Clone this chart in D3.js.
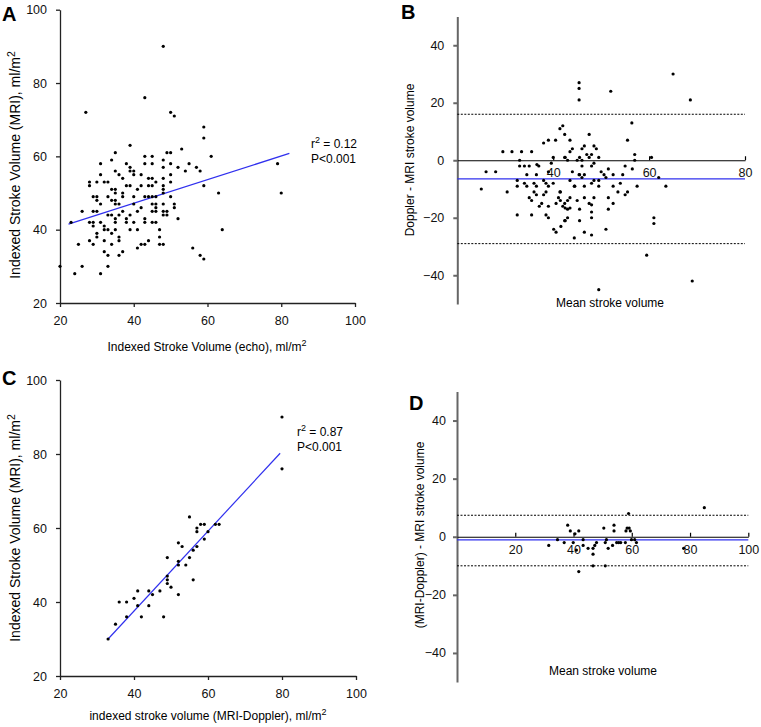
<!DOCTYPE html>
<html><head><meta charset="utf-8">
<script src="https://cdn.jsdelivr.net/npm/d3@7"></script>
<style>body{margin:0;background:#fff}svg{display:block}text{font-family:"Liberation Sans",Arial,sans-serif}</style>
</head><body><svg id="c" width="761" height="727"></svg>
<script>
// ---- Data ----
const panelAPoints = [[27,72],[48,90],[43,76],[50,72],[51,71],[39,63],[53,62],[35,61],[49,61],[50,61],[43,60],[45,60],[31,58],[34,59],[38,58],[43,58],[45,58],[48,59],[50,58],[55,58],[52,57],[57,57],[48,57],[39,57],[40,56],[35,56],[39,56],[40,55],[42,55],[37,54],[45,54],[48,54],[50,55],[54,56],[58,56],[59,68],[59,65],[61,60],[79,58],[59,52],[63,50],[80,50],[64,40],[56,35],[58,33],[59,32],
[20,30],[24,28],[26,30],[25,36],[23,42],[26,45],[31,28],[33,30],[32,34],[33,33],[36,33],[37,34],[28,37],[29,36],[30,38],[30,39],[32,37],[34,36],[36,38],[36,37],[32,41],[32,40],[33,40],[35,40],[34,39],[39,40],[41,35],[42,36],[43,36],[44,37],[41,40],[40,42],[43,42],[43,43],[45,42],[46,42],[47,40],[47,38],[47,36],[48,36],[52,43],[28,42],[29,42],[29,41],[31,42],[29,45],[30,45],[31,47],[29,49],[30,49],[30,48],[28,53],[28,52],[30,53],[32,53],[33,53],[33,49],[33,44],[34,44],[35,48],[35,47],[36,47],[34,48],[35,43],[35,42],[36,44],[37,50],[37,49],[38,52],[39,52],[38,43],[38,42],[40,49],[40,47],[42,46],[43,49],[44,49],[44,52],[45,52],[46,53],[48,52],[50,53],[48,51],[48,50],[45,49],[46,49],[45,47],[46,47],[45,45],[46,46],[46,45],[48,47],[48,45],[49,45],[48,44],[49,44],[50,49],[51,47],[51,46],[34,51],[35,50],[35,51],[36,55],[31,55],[41,51],[42,52],[44,54],[39,44],[41,45],[37,45]];
const panelARegX = [22.3, 82.2];
const panelARegY = [41.5, 60.8];
const panelAStats = ["0.12", "P<0.001"];

const panelBPoints = [[45.4,27],[45.4,25],[45.4,21],[52,24],[65,30],[68.6,21],[56.4,13],[55.5,7],[57,2],[57,0],[60.5,1],[62,-6],[47.5,9],[41.4,11],[42,12],[42.4,9],[43.5,7],[43.5,3],[44,4],[42.4,1],[45,0],[45.5,1],[46,0],[46,4],[46.5,5],[47,2],[47.5,1],[48,2],[48.5,5],[49,4],[49.5,1],[48,-2],[48.5,-1],[46,-2],[44,-4],[50,-4],[50.6,-5],[51.5,-3],[52.5,-5],[54.5,-5],[55,-2],[56.5,-3],[45.5,-5],[46,-6],[46.5,-5],[51,-6],
[43.5,-7],[44.4,-9],[46.5,-9],[48,-8],[48.5,-7],[49.5,-7],[49.5,-9],[52.5,-9],[54,-8],[53.5,-11],[55,-12],[55.5,-11],[57.5,-9],[63.5,-9],[41.4,-11],[42.4,-15],[43,-17],[42.4,-21],[45,-14],[45.5,-17],[45.5,-21],[46.5,-13],[47.5,-15],[48,-15.5],[48,-18],[48,-20],[48.5,-13],[51.5,-13],[52.5,-15],[51.5,-17],[46.5,-25],[48,-26],[51,-24],[44.4,-27],[61,-20],[61,-22],[59.5,-33],[69,-42],[49.5,-45],
[26,-4],[28,-4],[25,-10],[30.4,-11],[32.5,-7],[32.5,-9],[32.5,-19],[35.5,-19],[34,-8],[34.5,-9],[36.6,-1.5],[36,-8],[36.5,-9],[36,-11],[36.5,-12],[35,-13],[35.5,-14],[38,-7],[38.5,-8],[39,-9],[40,-8],[38.5,-11],[38,-12],[37.6,-15],[37.1,-16],[39,-16],[38.5,-19],[39,-20],[40.1,-24],[40.6,-25],[41.6,-23],[41.5,-11],[41.1,-13],[41.5,-14],[40.6,-15],[42,-16],[42.5,-16.6],[43.5,-16.6],[43,-14],[43.5,-13],[42.5,-21],[43,-20],[44.5,-9],[45.4,-5],[33,-2],[34,-2],[35,-2],[36.5,-5],
[29.5,3],[31.4,3],[33,0],[33.4,3],[35.5,3],[34.5,-5],[37,-2],[38,6],[39,7],[40.5,7],[40,1],[39.6,-1],[39,-4],[42.5,1],[43,0]];
const panelBMean = -6.5, panelBUpper = 16, panelBLower = -29;

const panelCPoints = [[33,30],[35,34],[36,40],[38,40],[38,36],[40,41],[41,43],[41,39],[42,36],[44,43],[45,42],[44,39],[47,43],[48,36],[49,47],[49,46],[49,45],[50,44],[49,52],[52,51],[52,50],[52,42],[52,56],[53,55],[54,50],[55,52],[56,54],[57,55],[56,46],[55,63],[57,60],[57,59],[58,61],[59,61],[60,59],[59,57],[62,61],[63,61],[80,90],[80,76]];
const panelCRegX = [33, 79.5];
const panelCRegY = [30, 80.2];
const panelCStats = ["0.87", "P<0.001"];

const panelDPoints = [[31.5,-3],[34.5,-1],[36.8,-2],[38,4],[38.9,2],[39.9,-2],[40.5,1],[41,-4.6],[41.8,2],[41.8,-12],[43.3,-1],[43.3,-3],[45,-4],[46.7,-4],[46.7,-6],[46.7,-10],[47.3,-3],[47.9,-2],[50.4,3],[50.9,-2],[51.3,-1],[50.9,-10],[51.9,-4],[53.4,-3],[53.9,4],[53.9,2],[54.8,-2],[55.5,-2],[56.2,-2],[57.8,-2],[58,2],[58.4,3],[58.9,8],[59.1,3],[59.5,2],[59.9,-1],[61,-1],[61.6,-2],[77.8,-4],[84.9,10]];
const panelDMean = -1.1, panelDUpper = 7.4, panelDLower = -10;

const scatterTicks = [20, 40, 60, 80, 100];
const baYTicks = [-40, -20, 0, 20, 40];
const panelBXTicks = [40, 60, 80];
const panelDXTicks = [20, 40, 60, 80, 100];

// ---- Drawing ----
const svg = d3.select("#c");
const BLUE = "#3030ee";
const FS = 12;

function letter(t, x, y) {
  svg.append("text").attr("x", x).attr("y", y).attr("font-size", 20).attr("font-weight", "bold").text(t);
}
function supLabel(g, x, y, main, rot, fs) {
  const t = g.append("text").attr("font-size", fs).attr("text-anchor", "middle")
    .attr("transform", rot ? `translate(${x},${y}) rotate(-90)` : `translate(${x},${y})`);
  t.append("tspan").text(main);
  t.append("tspan").attr("dy", -5).attr("font-size", fs * 0.75).text("2");
}

function scatterPanel(opt) {
  const x = d3.scaleLinear([20, 100], opt.xr);
  const y = d3.scaleLinear([20, 100], opt.yr);
  const g = svg.append("g");
  const ay = g.append("g").attr("transform", `translate(${opt.xr[0]},0)`)
    .call(d3.axisLeft(y).tickValues(scatterTicks).tickSize(4).tickPadding(9).tickSizeOuter(0));
  const ax = g.append("g").attr("transform", `translate(0,${opt.yr[0]})`)
    .call(d3.axisBottom(x).tickValues(scatterTicks).tickSize(4).tickPadding(9).tickSizeOuter(0));
  [ay, ax].forEach(a => {
    a.selectAll("text").attr("font-size", FS + 0.5).attr("font-family", '"Liberation Sans",Arial,sans-serif').attr("fill", "#111");
    a.selectAll("path,line").attr("stroke", "#222").attr("stroke-width", 1.3);
  });
  g.append("line").attr("x1", x(opt.regX[0])).attr("y1", y(opt.regY[0]))
    .attr("x2", x(opt.regX[1])).attr("y2", y(opt.regY[1])).attr("stroke", BLUE).attr("stroke-width", 1.2);
  g.selectAll("circle.p").data(opt.pts).join("circle").attr("class", "p")
    .attr("cx", d => x(d[0])).attr("cy", d => y(d[1])).attr("r", 1.6).attr("fill", "#000");
  const st = g.append("text").attr("x", opt.statX).attr("y", opt.statY).attr("font-size", FS);
  st.append("tspan").text("r");
  st.append("tspan").attr("dy", -5).attr("font-size", 9).text("2");
  st.append("tspan").attr("dy", 5).text(" = " + opt.stats[0]);
  g.append("text").attr("x", opt.statX).attr("y", opt.statY + 15).attr("font-size", FS).text(opt.stats[1]);
  supLabel(g, opt.xLab[0], opt.xLab[1], opt.xTitle, false, 12);
  supLabel(g, opt.yLab[0], opt.yLab[1], opt.yTitle, true, 14);
}

function baPanel(opt) {
  const x = d3.scaleLinear(opt.xd, opt.xr);
  const y = d3.scaleLinear([-50, 50], opt.yr);
  const g = svg.append("g");
  const ay = g.append("g").attr("transform", `translate(${opt.xr[0]},0)`)
    .call(d3.axisLeft(y).tickValues(baYTicks).tickSize(4).tickPadding(opt.yPad).tickSizeOuter(0));
  ay.selectAll("text").attr("font-size", FS + 0.5).attr("font-family", '"Liberation Sans",Arial,sans-serif').attr("fill", "#111");
  ay.selectAll("path,line").attr("stroke", "#666").attr("stroke-width", 2);
  [opt.upper, opt.lower].forEach(v => {
    g.append("line").attr("x1", opt.xr[0]).attr("x2", opt.xr[1]).attr("y1", y(v)).attr("y2", y(v))
      .attr("stroke", "#000").attr("stroke-width", 1).attr("stroke-dasharray", "2,1.5");
  });
  const ax = g.append("g").attr("transform", `translate(0,${y(0)})`)
    .call(d3.axisBottom(x).tickValues(opt.xTicks).tickSize(-4).tickPadding(8).tickSizeOuter(0));
  ax.selectAll("text").attr("font-size", FS + 0.5).attr("font-family", '"Liberation Sans",Arial,sans-serif').attr("fill", "#111");
  ax.selectAll("path,line").attr("stroke", "#000").attr("stroke-width", 1.2);
  g.append("line").attr("x1", opt.xr[0]).attr("x2", opt.xr[1]).attr("y1", y(opt.mean)).attr("y2", y(opt.mean))
    .attr("stroke", BLUE).attr("stroke-width", 1.3);
  g.selectAll("circle.p").data(opt.pts).join("circle").attr("class", "p")
    .attr("cx", d => x(d[0])).attr("cy", d => y(d[1])).attr("r", 1.6).attr("fill", "#000");
  g.append("text").attr("x", opt.xLab[0]).attr("y", opt.xLab[1]).attr("font-size", FS)
    .attr("text-anchor", "middle").text("Mean stroke volume");
  g.append("text").attr("transform", `translate(${opt.yLab[0]},${opt.yLab[1]}) rotate(-90)`)
    .attr("font-size", FS).attr("text-anchor", "middle").text(opt.yTitle);
}

scatterPanel({xr: [60, 355], yr: [303, 9.7], pts: panelAPoints, regX: panelARegX, regY: panelARegY,
  stats: panelAStats, statX: 311, statY: 148,
  xTitle: "Indexed Stroke Volume (echo), ml/m", xLab: [207, 351],
  yTitle: "Indexed Stroke Volume (MRI), ml/m", yLab: [20, 165]});
scatterPanel({xr: [60, 356], yr: [676, 380], pts: panelCPoints, regX: panelCRegX, regY: panelCRegY,
  stats: panelCStats, statX: 297, statY: 436,
  xTitle: "indexed stroke volume (MRI-Doppler), ml/m", xLab: [208, 720],
  yTitle: "Indexed Stroke Volume (MRI), ml/m", yLab: [20, 528]});
baPanel({xd: [20, 80], xr: [457.3, 745], yr: [304, 16.5], pts: panelBPoints, xTicks: panelBXTicks,
  mean: panelBMean, upper: panelBUpper, lower: panelBLower, yPad: 9,
  xLab: [610, 307], yTitle: "Doppler - MRI stroke volume", yLab: [414, 160]});
baPanel({xd: [0, 100], xr: [457, 748.3], yr: [682, 391.5], pts: panelDPoints, xTicks: panelDXTicks,
  mean: panelDMean, upper: panelDUpper, lower: panelDLower, yPad: 7,
  xLab: [603, 675], yTitle: "(MRI-Doppler) - MRI stroke volume", yLab: [424, 535]});

letter("A", 2, 21);
letter("B", 401, 19);
letter("C", 2, 385);
letter("D", 409, 410);
</script></body></html>
